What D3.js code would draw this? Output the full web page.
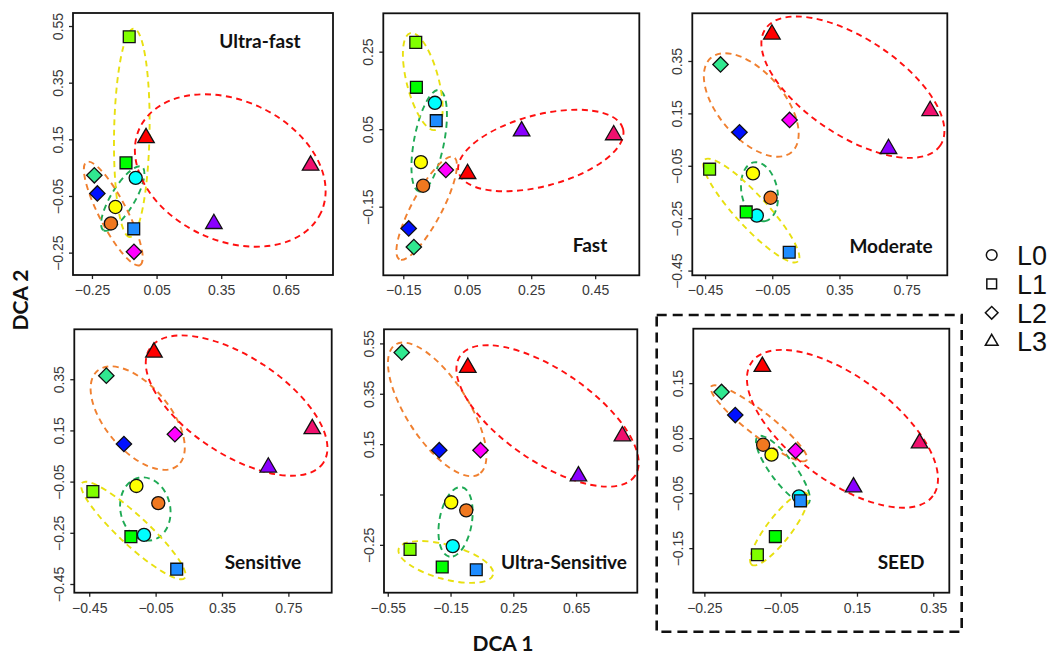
<!DOCTYPE html>
<html><head><meta charset="utf-8">
<script src="https://cdn.jsdelivr.net/npm/d3@7"></script>
<style>body{margin:0;background:#fff}svg{display:block}</style>
</head><body>
<svg id="chart" width="1054" height="654"></svg>
<script>
// ---------------- DATA ----------------
const panelNames = ["Ultra-fast", "Fast", "Moderate", "Sensitive", "Ultra-Sensitive", "SEED"];

// sample categories (same order in each panel)
const sampleLevel = ["L0","L0","L0","L1","L1","L1","L2","L2","L2","L3","L3","L3"];
const sampleColor = ["#ffff00","#f07820","#00ffff","#80ff00","#00ff00","#1e8cff","#30e890","#0010ff","#ff00ff","#ff0000","#f0106e","#8a00ff"];

const xDomains = [[-0.338,0.869],[-0.2125,0.588],[-0.526,0.992],[-0.540,1.011],[-0.574,1.040],[-0.279,0.392]];
const yDomains = [[-0.329,0.596],[-0.327,0.349],[-0.468,0.532],[-0.484,0.545],[-0.440,0.606],[-0.231,0.249]];

const xTickValues = [[-0.25,0.05,0.35,0.65],[-0.15,0.05,0.25,0.45],[-0.45,-0.05,0.35,0.75],[-0.45,-0.05,0.35,0.75],[-0.55,-0.15,0.25,0.65],[-0.25,-0.05,0.15,0.35]];
const yTickValues = [[0.55,0.35,0.15,-0.05,-0.25],[0.25,0.05,-0.15],[0.35,0.15,-0.05,-0.25,-0.45],[0.35,0.15,-0.05,-0.25,-0.45],[0.55,0.35,0.15,-0.05,-0.25],[0.15,0.05,-0.05,-0.15]];
const yTickLabels = [
  ["0.55","0.35","0.15","\u22120.05","\u22120.25"],
  ["0.25","0.05","\u22120.15"],
  ["0.35","0.15","\u22120.05","\u22120.25","\u22120.45"],
  ["0.35","0.15","\u22120.05","\u22120.25","\u22120.45"],
  ["0.55","0.35","0.15","","\u22120.25"],
  ["0.15","0.05","\u22120.05","\u22120.15"]
];

// DCA scores: order yellowC, orangeC, cyanC, limeS, greenS, blueS, springD, blueD, magentaD, redT, pinkT, purpleT
const scoresX = [
  [-0.141,-0.162,-0.047,-0.077,-0.092,-0.056,-0.239,-0.225,-0.055, 0.001, 0.765, 0.316],
  [-0.095,-0.088,-0.051,-0.111,-0.109,-0.047,-0.117,-0.133,-0.017, 0.051, 0.508, 0.220],
  [-0.165,-0.060,-0.142,-0.423,-0.205, 0.051,-0.358,-0.245, 0.053,-0.052, 0.890, 0.642],
  [-0.166,-0.034,-0.120,-0.428,-0.199, 0.077,-0.347,-0.241, 0.066,-0.060, 0.894, 0.629],
  [-0.146,-0.050,-0.136,-0.408,-0.203, 0.014,-0.461,-0.222, 0.041,-0.040, 0.945, 0.665],
  [-0.074,-0.096,-0.002,-0.111,-0.064, 0.002,-0.205,-0.169,-0.011,-0.098, 0.314, 0.141]
];
const scoresY = [
  [-0.089,-0.147, 0.014, 0.512, 0.067,-0.166, 0.023,-0.041,-0.247, 0.155, 0.058,-0.148],
  [-0.035,-0.096, 0.118, 0.274, 0.158, 0.072,-0.254,-0.206,-0.055,-0.065, 0.035, 0.045],
  [-0.079,-0.172,-0.240,-0.063,-0.226,-0.380, 0.337, 0.078, 0.125, 0.452, 0.160, 0.015],
  [-0.067,-0.134,-0.258,-0.089,-0.265,-0.392, 0.364, 0.097, 0.135, 0.455, 0.156, 0.006],
  [-0.081,-0.113,-0.255,-0.268,-0.338,-0.349, 0.514, 0.126, 0.126, 0.454, 0.182, 0.023],
  [ 0.020, 0.038,-0.056,-0.162,-0.129,-0.064, 0.134, 0.092, 0.027, 0.180, 0.041,-0.039]
];

// group ellipses: [centerX, centerY, majorEndX, majorEndY, minor/major ratio]
const ellipseGroups = ["L0","L1","L2","L3"];
const ellipseColor = ["#1faa55","#e8e010","#f08030","#ff1010"];
const ellipses = [
  [[-0.107,-0.059,-0.196,-0.171,0.32],[-0.065,0.173,-0.074,-0.195,0.17],[-0.151,-0.112,-0.027,-0.294,0.24],[0.392,0.040,0.813,-0.109,0.70]],
  [[-0.069,0.020,-0.100,-0.111,0.29],[-0.089,0.173,-0.050,0.048,0.32],[-0.077,-0.154,-0.162,-0.286,0.26],[0.280,-0.005,0.537,0.051,0.42]],
  [[-0.126,-0.149,-0.092,-0.261,0.60],[-0.175,-0.221,0.103,-0.415,0.23],[-0.175,0.182,0.065,0.002,0.53],[0.430,0.250,0.951,0.028,0.46]],
  [[-0.112,-0.157,-0.072,-0.279,0.78],[-0.184,-0.241,0.125,-0.427,0.21],[-0.158,0.198,0.084,0.013,0.52],[0.438,0.247,0.961,0.024,0.47]],
  [[-0.118,-0.159,-0.157,-0.297,0.46],[-0.180,-0.318,0.121,-0.369,0.35],[-0.235,0.288,0.032,0.031,0.40],[0.468,0.262,1.025,0.024,0.43]],
  [[-0.044,-0.008,0.022,-0.069,0.29],[-0.054,-0.115,-0.126,-0.180,0.27],[-0.107,0.077,0.018,0.010,0.20],[0.112,0.067,0.349,-0.055,0.46]]
];

const legendLabels = ["L0","L1","L2","L3"];
const axisTitles = ["DCA 1","DCA 2"];

// ---------------- LAYOUT ----------------
const boxes = [
  {x0:73, x1:333, y0:13, y1:275},
  {x0:383.3, x1:639.3, y0:13.3, y1:275.3},
  {x0:692.3, x1:947.3, y0:13.3, y1:275.3},
  {x0:74.3, x1:331.7, y0:329.3, y1:592.7},
  {x0:384, x1:637.3, y0:329.3, y1:592.7},
  {x0:693.3, x1:949.3, y0:328.7, y1:592.7}
];
const titlePos = [
  {x:260, y:48}, {x:590, y:252}, {x:891, y:253}, {x:263, y:569}, {x:564, y:569}, {x:901, y:569}
];

const svg = d3.select("#chart");
const shapeOf = {L0: d3.symbolCircle, L1: d3.symbolSquare, L2: d3.symbolSquare, L3: d3.symbolTriangle};
const sizeOf = {L0: 135, L1: 140, L2: 118, L3: 118};
const rotOf = {L0: 0, L1: 0, L2: 45, L3: 0};
const tickFont = "Liberation Sans, Arial, sans-serif";

panelNames.forEach((name, p) => {
  const b = boxes[p];
  const sx = d3.scaleLinear().domain(xDomains[p]).range([b.x0, b.x1]);
  const sy = d3.scaleLinear().domain(yDomains[p]).range([b.y1, b.y0]);
  const g = svg.append("g");

  // axes
  const xa = g.append("g").attr("transform", `translate(0,${b.y1})`)
    .call(d3.axisBottom(sx).tickValues(xTickValues[p]).tickSize(4).tickPadding(6)
      .tickFormat(d => d3.format(".2f")(d).replace("-", "\u2212")));
  const ya = g.append("g").attr("transform", `translate(${b.x0},0)`)
    .call(d3.axisLeft(sy).tickValues(yTickValues[p]).tickSize(4).tickPadding(5)
      .tickFormat((d, i) => yTickLabels[p][i]));
  [xa, ya].forEach(a => {
    a.select(".domain").remove();
    a.selectAll("line").attr("stroke", "#222").attr("stroke-width", 1.3);
    a.selectAll("text").attr("font-family", tickFont).attr("font-size", 14).attr("fill", "#3a3a3a");
  });
  ya.selectAll("text")
    .attr("text-anchor", "middle")
    .attr("x", null).attr("dy", null)
    .attr("transform", "translate(-15,0) rotate(-90)")
    .attr("dy", "0.35em");

  // ellipses
  ellipses[p].forEach((e, k) => {
    const cx = sx(e[0]), cy = sy(e[1]);
    const ex = sx(e[2]), ey = sy(e[3]);
    const a = Math.hypot(ex - cx, ey - cy);
    const ang = Math.atan2(ey - cy, ex - cx) * 180 / Math.PI;
    g.append("ellipse")
      .attr("transform", `translate(${cx},${cy}) rotate(${ang})`)
      .attr("rx", a).attr("ry", a * e[4])
      .attr("fill", "none").attr("stroke", ellipseColor[k])
      .attr("stroke-width", 1.9).attr("stroke-dasharray", "6,4.5");
  });

  // points
  const pts = sampleLevel.map((lv, i) => ({lv, c: sampleColor[i], x: scoresX[p][i], y: scoresY[p][i]}));
  g.selectAll("path.pt").data(pts).join("path").attr("class", "pt")
    .attr("d", d => d3.symbol(shapeOf[d.lv], sizeOf[d.lv])())
    .attr("transform", d => `translate(${sx(d.x)},${sy(d.y)}) rotate(${rotOf[d.lv]})`)
    .attr("fill", d => d.c).attr("stroke", "#111").attr("stroke-width", 1.3);

  // frame
  g.append("rect").attr("x", b.x0).attr("y", b.y0)
    .attr("width", b.x1 - b.x0).attr("height", b.y1 - b.y0)
    .attr("fill", "none").attr("stroke", "#111").attr("stroke-width", 1.8);

  // title
  g.append("text").attr("x", titlePos[p].x).attr("y", titlePos[p].y)
    .attr("text-anchor", "middle").attr("font-family", "Lato, sans-serif")
    .attr("font-weight", 700).attr("font-size", 19).attr("fill", "#111").text(name);
});

// SEED highlight box
svg.append("rect").attr("x", 656.7).attr("y", 315).attr("width", 305).attr("height", 316.7)
  .attr("fill", "none").attr("stroke", "#111").attr("stroke-width", 2.6).attr("stroke-dasharray", "10,6");

// axis titles
svg.append("text").attr("x", 503).attr("y", 651).attr("text-anchor", "middle")
  .attr("font-family", "Lato, sans-serif").attr("font-weight", 700).attr("font-size", 21)
  .attr("fill", "#111").text(axisTitles[0]);
svg.append("text").attr("transform", "translate(28,300) rotate(-90)").attr("text-anchor", "middle")
  .attr("font-family", "Lato, sans-serif").attr("font-weight", 700).attr("font-size", 21)
  .attr("fill", "#111").text(axisTitles[1]);

// legend
const legY = d3.scalePoint().domain(legendLabels).range([255, 341.7]);
const legShape = {L0: d3.symbolCircle, L1: d3.symbolSquare, L2: d3.symbolSquare, L3: d3.symbolTriangle};
const legSize = {L0: 90, L1: 95, L2: 80, L3: 70};
const leg = svg.append("g");
legendLabels.forEach(l => {
  leg.append("path").attr("d", d3.symbol(legShape[l], legSize[l])())
    .attr("transform", `translate(991.7,${legY(l)}) rotate(${rotOf[l]})`)
    .attr("fill", "none").attr("stroke", "#111").attr("stroke-width", 1.5);
  leg.append("text").attr("x", 1017).attr("y", legY(l)).attr("dy", "0.36em")
    .attr("font-family", "Liberation Sans, Arial, sans-serif").attr("font-size", 27)
    .attr("fill", "#111").text(l);
});
</script>
</body></html>
